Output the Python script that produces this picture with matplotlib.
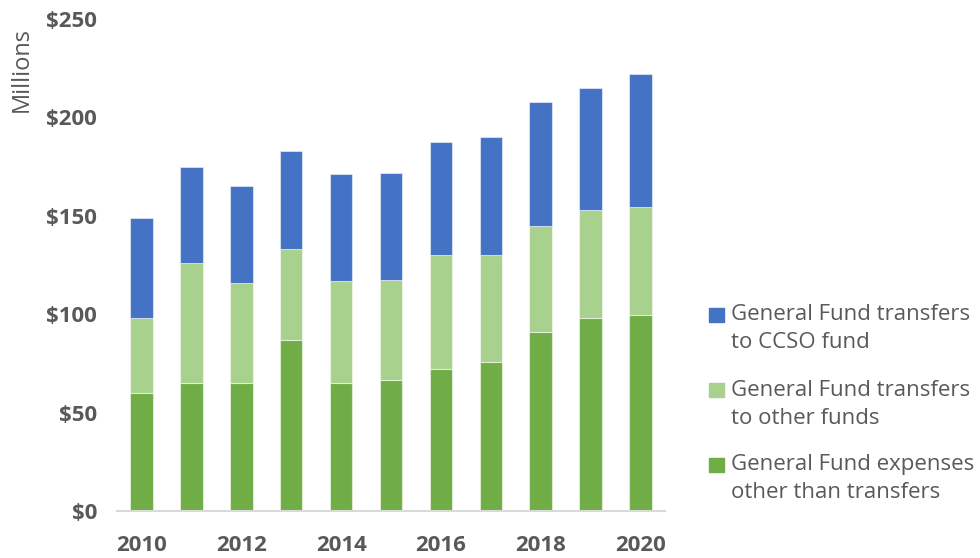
import matplotlib.pyplot as plt
import numpy as np
from matplotlib.patches import Rectangle

# general fund spending by year, millions of dollars
years = [2010, 2011, 2012, 2013, 2014, 2015, 2016, 2017, 2018, 2019, 2020]
expenses = [60, 65, 65, 87, 65, 66.5, 72, 76, 91, 98, 99.5]
to_other = [38, 61, 51, 46, 52, 51, 58, 54, 54, 55, 55]
to_ccso = [51, 49, 49, 50, 54, 54.5, 57.5, 60, 63, 62, 67.5]

series_labels = [['General Fund transfers', 'to CCSO fund'],
                 ['General Fund transfers', 'to other funds'],
                 ['General Fund expenses', 'other than transfers']]
colours = ['#4472C4', '#A9D18E', '#70AD47']
text_grey = '#595959'

plt.rcParams['font.family'] = ['Open Sans', 'DejaVu Sans']

fig = plt.figure(figsize=(9.8, 5.58), dpi=100)
ax = fig.add_axes([0.119, 0.084, 0.560, 0.882])

x = np.array(years)
bottom = np.zeros(len(years))
for vals, col in [(expenses, colours[2]), (to_other, colours[1]), (to_ccso, colours[0])]:
    ax.bar(x, vals, width=0.45, bottom=bottom, color=col,
           edgecolor=(1, 1, 1, 0.5), linewidth=0.8)
    bottom += np.array(vals)

ax.set_xlim(2009.5, 2020.5)
ax.set_ylim(0, 250)
ax.set_xticks(years[::2])
ax.set_yticks(np.arange(0, 251, 50))
ax.set_yticklabels(['${}'.format(v) for v in range(0, 251, 50)])
for lbl in ax.get_xticklabels() + ax.get_yticklabels():
    lbl.set_fontweight('bold')
    lbl.set_fontsize(16)
    lbl.set_color(text_grey)
ax.tick_params(axis='both', length=0)
ax.tick_params(axis='x', pad=17)
ax.tick_params(axis='y', pad=14)
for side in ['top', 'right', 'left']:
    ax.spines[side].set_visible(False)
ax.spines['bottom'].set_color('#D9D9D9')
ax.spines['bottom'].set_linewidth(1.5)

fig.text(0.022, 0.875, 'Millions', rotation=90, ha='center', va='center',
         fontsize=17, color=text_grey)

# legend drawn by hand on the right
legend_y = [0.4355, 0.301, 0.1667]
line_gap = 28 / 558
for y0, lines, col in zip(legend_y, series_labels, colours):
    fig.patches.append(Rectangle((0.7235, y0 - 0.0125), 0.0155, 0.025,
                                 transform=fig.transFigure, color=col))
    for k, line in enumerate(lines):
        fig.text(0.746, y0 - k * line_gap, line, ha='left', va='center',
                 fontsize=16, color=text_grey)

fig.savefig('out.png', dpi=100)
